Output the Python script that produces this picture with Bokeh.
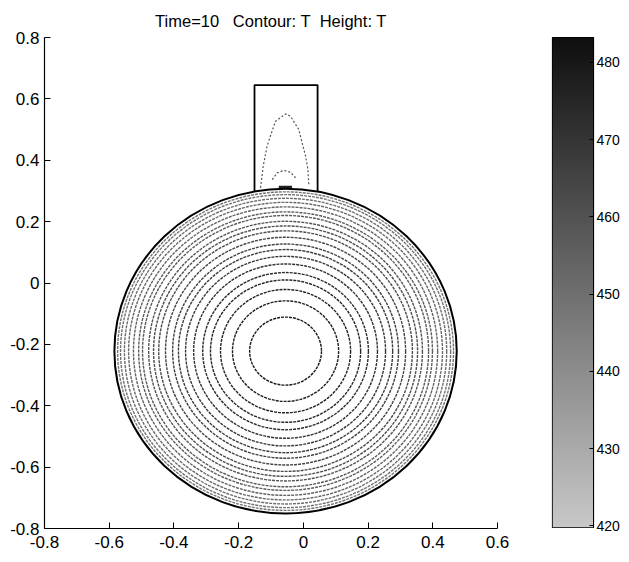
import numpy as np
from bokeh.plotting import figure
from bokeh.layouts import row
from bokeh.models import FixedTicker, LinearColorMapper
from bokeh.embed import file_html
from bokeh.resources import INLINE

FONT = "Liberation Sans"
NB = "\u00a0"

# ---------------- data ----------------
title_text = "Time=10" + NB * 3 + "Contour: T" + NB * 2 + "Height: T"

x_ticks = [-0.8, -0.6, -0.4, -0.2, 0.0, 0.2, 0.4, 0.6]
x_tick_labels = ["-0.8", "-0.6", "-0.4", "-0.2", "0", "0.2", "0.4", "0.6"]
y_ticks = [-0.8, -0.6, -0.4, -0.2, 0.0, 0.2, 0.4, 0.6, 0.8]
y_tick_labels = ["-0.8", "-0.6", "-0.4", "-0.2", "0", "0.2", "0.4", "0.6", "0.8"]

cbar_ticks = [420, 430, 440, 450, 460, 470, 480]
cbar_low, cbar_high = 419.8, 483.2

# geometry
circle_cx, circle_cy, circle_r = -0.055, -0.222, 0.529
rect_left, rect_right, rect_top = -0.151, 0.044, 0.645

# radii of the concentric temperature contours in the disc
contour_r = [0.111, 0.164, 0.201, 0.232, 0.256, 0.284, 0.309, 0.331, 0.349, 0.371,
             0.392, 0.408, 0.423, 0.442, 0.454, 0.470, 0.485, 0.498, 0.510, 0.519]
T_center, T_wall = 482.0, 420.0

# contours inside the rectangular neck
arch1_x = [-0.1325, -0.124, -0.112, -0.102, -0.086, -0.055, -0.040, -0.014, -0.004, 0.007, 0.014, 0.017]
arch1_y = [0.310, 0.381, 0.446, 0.479, 0.527, 0.551, 0.544, 0.500, 0.457, 0.413, 0.370, 0.316]
arch2_x = [-0.096, -0.081, -0.060, -0.040, -0.024]
arch2_y = [0.337, 0.359, 0.367, 0.361, 0.343]
bar_x = [-0.076, -0.035]
bar_y = [0.312, 0.312]

# ---------------- main plot ----------------
p = figure(x_range=(-0.8, 0.6), y_range=(-0.8, 0.8),
           output_backend="svg", toolbar_location=None,
           min_border_left=44, min_border_right=42, min_border_top=37, min_border_bottom=22)
p.frame_width = 453
p.frame_height = 491
p.outline_line_color = None
p.grid.visible = False
p.background_fill_color = "white"
p.border_fill_color = "white"

p.title.text = title_text
p.title.align = "center"
p.title.text_font = FONT
p.title.text_font_size = "16.5px"
p.title.text_font_style = "normal"
p.title.text_color = "black"
p.title.standoff = 15

p.xaxis.ticker = FixedTicker(ticks=x_ticks)
p.xaxis.major_label_overrides = {t: l for t, l in zip(x_ticks, x_tick_labels)}
p.yaxis.ticker = FixedTicker(ticks=y_ticks)
p.yaxis.major_label_overrides = {t: l for t, l in zip(y_ticks, y_tick_labels)}
for ax in (p.xaxis, p.yaxis):
    ax.axis_line_color = "black"
    ax.axis_line_width = 1.2
    ax.major_tick_line_color = "black"
    ax.major_tick_in = 6
    ax.major_tick_out = 0
    ax.minor_tick_line_color = None
    ax.major_label_text_font = FONT
    ax.major_label_text_font_size = "17px"
    ax.major_label_text_color = "black"
p.yaxis.major_label_standoff = 5
p.xaxis.major_label_standoff = 7

# temperature contours in the disc (dark = hot)
levels = [T_center - (T_center - T_wall) * (r / circle_r) ** 2 for r in contour_r]
def gray_for(T):
    f = (T - T_wall) / (T_center - T_wall)
    g = int(round(120 - 100 * f))
    return "#%02x%02x%02x" % (g, g, g)

colors = [gray_for(T) for T in levels]
p.ellipse(x=[circle_cx] * len(contour_r), y=[circle_cy] * len(contour_r),
          width=[2 * r for r in contour_r], height=[2 * r for r in contour_r],
          fill_color=None, line_color=colors, line_width=1.4, line_dash="3 1")

# neck contours
p.line(arch1_x, arch1_y, line_color="#555555", line_width=1.2, line_dash="2 2")
p.line(arch2_x, arch2_y, line_color="#555555", line_width=1.2, line_dash="2 2")
p.line(bar_x, bar_y, line_color="#222222", line_width=3)

# geometry boundary
p.ellipse(x=[circle_cx], y=[circle_cy], width=[2 * circle_r], height=[2 * circle_r],
          fill_color=None, line_color="black", line_width=2)
yb_l = circle_cy + np.sqrt(circle_r ** 2 - (rect_left - circle_cx) ** 2)
yb_r = circle_cy + np.sqrt(circle_r ** 2 - (rect_right - circle_cx) ** 2)
p.line([rect_left, rect_left, rect_right, rect_right], [yb_l, rect_top, rect_top, yb_r],
       line_color="black", line_width=1.8)

# ---------------- colour bar ----------------
c = figure(x_range=(0, 1), y_range=(cbar_low, cbar_high),
           output_backend="svg", toolbar_location=None,
           x_axis_location=None, y_axis_location="right",
           min_border_left=13, min_border_top=30, min_border_bottom=27, min_border_right=26)
c.frame_width = 41
c.frame_height = 490
c.grid.visible = False
c.outline_line_color = "black"
c.outline_line_width = 1.2
palette = ["#%02x%02x%02x" % (g, g, g) for g in np.linspace(200, 15, 256).astype(int)]
mapper = LinearColorMapper(palette=palette, low=cbar_low, high=cbar_high)
grad = np.linspace(cbar_low, cbar_high, 256).reshape(256, 1)
c.image(image=[grad], x=0, y=cbar_low, dw=1, dh=cbar_high - cbar_low, color_mapper=mapper)
c.yaxis.ticker = FixedTicker(ticks=cbar_ticks)
c.yaxis.axis_line_color = "black"
c.yaxis.major_tick_line_color = "black"
c.yaxis.major_tick_in = 4
c.yaxis.major_tick_out = 0
c.yaxis.minor_tick_line_color = None
c.yaxis.major_label_standoff = 3
c.yaxis.major_label_text_font = FONT
c.yaxis.major_label_text_font_size = "14px"
c.yaxis.major_label_text_color = "black"

layout = row(p, c)
open("out.html", "w").write(file_html(layout, INLINE))
